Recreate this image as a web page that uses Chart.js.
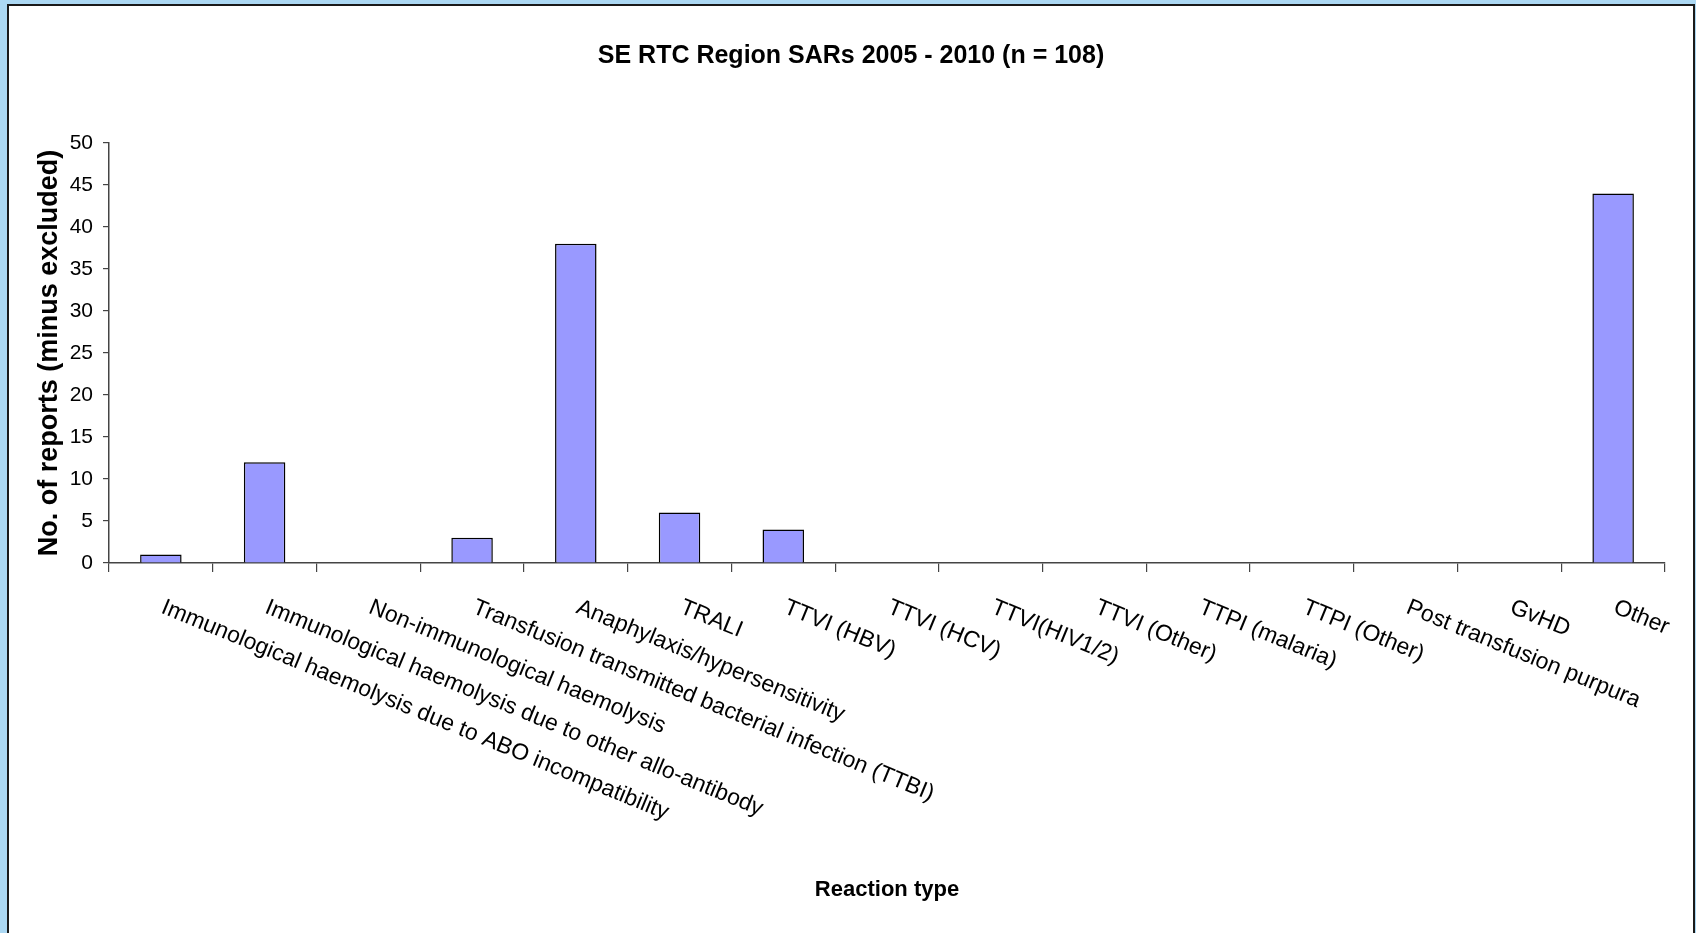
<!DOCTYPE html>
<html>
<head>
<meta charset="utf-8">
<script src="https://cdn.jsdelivr.net/npm/chart.js@4.4.0/dist/chart.umd.min.js"></script>
<style>
  html, body { margin: 0; padding: 0; background: #acd8f3; overflow: hidden; }
  #frame {
    position: absolute; left: 7px; top: 4px;
    width: 1684px; height: 940px;
    border: 2px solid #1a1a1a; border-bottom: none;
    background: #ffffff;
  }
  #chart { display: block; }
</style>
</head>
<body>
<div id="frame"><canvas id="chart" width="1684" height="927"></canvas></div>
<script>
// Categorias e valores
const categories = [
  'Immunological haemolysis due to ABO incompatibility',
  'Immunological haemolysis due to other allo-antibody',
  'Non-immunological haemolysis',
  'Transfusion transmitted bacterial infection (TTBI)',
  'Anaphylaxis/hypersensitivity',
  'TRALI',
  'TTVI (HBV)',
  'TTVI (HCV)',
  'TTVI(HIV1/2)',
  'TTVI (Other)',
  'TTPI (malaria)',
  'TTPI (Other)',
  'Post transfusion purpura',
  'GvHD',
  'Other'
];
const reports = [1, 12, 0, 3, 38, 6, 4, 0, 0, 0, 0, 0, 0, 0, 44];
const yTicks = [0, 5, 10, 15, 20, 25, 30, 35, 40, 45, 50];

const FONT = 'Liberation Sans, Arial, sans-serif';

// Plugin para desenhar os rótulos do eixo X inclinados para baixo
const slantedLabels = {
  id: 'slantedLabels',
  afterDraw(chart) {
    const ctx = chart.ctx;
    const xScale = chart.scales.x;
    const top = chart.chartArea.bottom + 33;
    ctx.save();
    ctx.font = '23px ' + FONT;
    ctx.fillStyle = '#000';
    ctx.textAlign = 'left';
    ctx.textBaseline = 'top';
    categories.forEach((label, i) => {
      const x = xScale.getPixelForValue(i) + 6;
      ctx.save();
      ctx.translate(x, top);
      ctx.rotate(22.3 * Math.PI / 180);
      ctx.fillText(label, 0, 0);
      ctx.restore();
    });
    ctx.restore();
  }
};

const ctx = document.getElementById('chart').getContext('2d');
const chart = new Chart(ctx, {
  type: 'bar',
  data: {
    labels: categories,
    datasets: [{
      data: reports,
      backgroundColor: '#9999ff',
      borderColor: '#000000',
      borderWidth: 1.5,
      barPercentage: 0.4,
      categoryPercentage: 1.0
    }]
  },
  options: {
    responsive: false,
    animation: false,
    layout: { padding: 0 },
    plugins: {
      legend: { display: false },
      tooltip: { enabled: false },
      title: {
        display: true,
        text: 'SE RTC Region SARs 2005 - 2010 (n = 108)',
        color: '#000',
        font: { family: FONT, size: 25, weight: 'bold', lineHeight: 1.2 },
        padding: { top: 35, bottom: 72 }
      }
    },
    scales: {
      x: {
        afterFit(scale) { scale.height = 927 - 557; },
        grid: {
          offset: true,
          drawOnChartArea: false,
          color: '#444',
          tickLength: 9,
          lineWidth: 1.2
        },
        border: { display: true, color: '#444', width: 1.5 },
        ticks: { display: false },
        title: {
          display: true,
          text: 'Reaction type',
          color: '#000',
          font: { family: FONT, size: 22, weight: 'bold', lineHeight: 1.2 },
          padding: { top: 0, bottom: 29.5 }
        }
      },
      y: {
        min: 0,
        max: 50,
        afterFit(scale) { scale.width = 100; },
        afterBuildTicks(scale) { scale.ticks = yTicks.map(v => ({ value: v })); },
        grid: {
          drawOnChartArea: false,
          color: '#444',
          tickLength: 6,
          lineWidth: 1.2
        },
        border: { display: true, color: '#444', width: 1.5 },
        ticks: {
          color: '#000',
          padding: 10,
          font: { family: FONT, size: 21 }
        },
        title: {
          display: true,
          text: 'No. of reports (minus excluded)',
          color: '#000',
          font: { family: FONT, size: 27, weight: 'bold', lineHeight: 1.2 },
          padding: { top: 24.8, bottom: 0 }
        }
      },
      // eixo vazio só para reservar a margem direita
      spacer: {
        position: 'right',
        display: true,
        afterFit(scale) { scale.width = 28; },
        grid: { display: false },
        border: { display: false },
        ticks: { display: false }
      }
    }
  },
  plugins: [slantedLabels]
});
</script>
</body>
</html>
